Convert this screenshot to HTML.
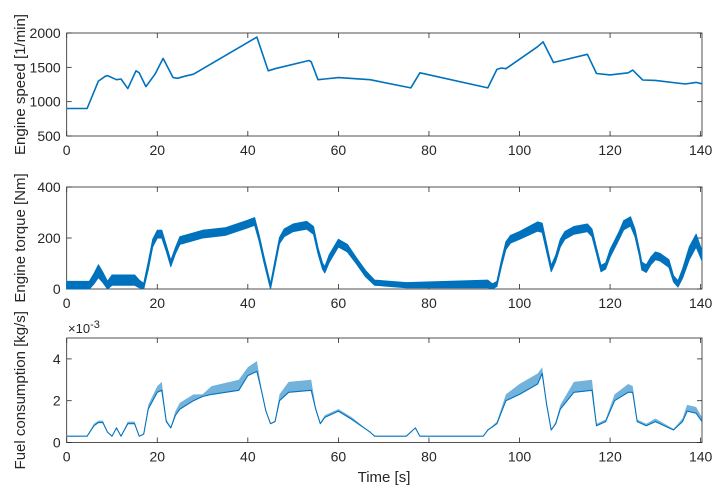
<!DOCTYPE html>
<html><head><meta charset="utf-8"><style>
body{margin:0;background:#fff;}
svg{display:block;font-family:"Liberation Sans",sans-serif;}
</style></head><body>
<svg id="c" width="721" height="496" xmlns="http://www.w3.org/2000/svg"></svg>
<script>
const xTicks=[0,20,40,60,80,100,120,140];
const speedT=[0,4.5,7,8.5,9,11,12,13.5,15.3,16,17.5,19.5,21.3,23.5,24.5,26,28,42,44.5,46,53.5,54,55.5,57,60,67,76,78,93,95,96,97,104,105.2,107.5,115,117,120,124,125,127.2,130,136.6,139,140.3];
const speedV=[900,900,1300,1370,1380,1320,1330,1190,1450,1420,1220,1400,1630,1350,1340,1370,1400,1940,1450,1480,1600,1580,1320,1330,1350,1320,1200,1420,1200,1470,1490,1480,1800,1870,1570,1690,1410,1390,1420,1460,1316,1310,1257,1280,1260];
const speedTicks=[500,1000,1500,2000];
const torqueT=[0,5,6,7,8,9,10,15,16,17,18,19,20,21,22,23,24,25,30,35,40,41.5,42.5,43.5,45,46,47,48,50,53,54.5,55.5,56.5,57,58,60,62,64,66,68,75,93,94,95,96,97,98,100,104,105,106,107,108,109,110,112,115,116,117,118,119,120,122,123,124.5,125.5,126.5,127,128,129,130,131,133,134,135,136,137.5,139,140.3];
const torqueV=[15,15,40,70,45,15,35,35,20,10,90,180,215,215,160,100,150,190,215,225,255,265,200,120,10,100,190,220,240,250,230,150,90,75,120,180,160,110,60,25,15,20,10,20,100,170,195,210,245,240,160,80,120,180,210,230,240,220,150,80,90,140,210,250,265,220,140,90,80,110,130,125,100,40,20,60,140,190,130,100];
const torqueBand=[15,15,20,25,20,15,20,20,15,12,15,15,15,15,12,12,12,15,15,15,15,15,12,12,10,12,12,15,15,15,15,12,12,12,15,15,15,12,12,10,10,15,10,10,12,15,15,15,18,18,15,12,12,15,15,15,15,15,12,12,12,15,15,18,18,15,12,15,15,15,15,15,15,12,12,18,25,25,20,20];
const torqueTicks=[0,200,400];
const fuelT=[0,4.5,6,7,8,9,10,11,12,13.5,15,16,17,18,20,21,22,23,24,25,28,30,32,38,40,42,43,44,45,46,47,49,54,55,56,57,60,63,67,68,75,77,78,92,93,95,97,100,104,105,106,107,108,109,112,116,117,119,121,124,125,126,128,130,134,136,137,139,140.3];
const fuelV=[0.3,0.3,0.8,0.95,0.95,0.5,0.3,0.7,0.3,0.9,0.9,0.3,0.4,1.6,2.4,2.5,1.0,0.7,1.3,1.6,2.0,2.2,2.3,2.5,3.2,3.4,2.5,1.5,0.9,1.0,2.0,2.4,2.5,1.6,0.9,1.2,1.5,1.1,0.5,0.3,0.3,0.7,0.3,0.3,0.6,0.9,2.0,2.3,2.8,3.3,1.8,0.6,0.9,1.6,2.4,2.5,0.8,1.0,2.0,2.4,2.4,1.0,0.8,1.0,0.6,1.0,1.5,1.4,1.0];
const fuelSpike=[0,0,0.1,0.1,0.1,0,0,0.05,0,0.1,0.1,0,0,0.2,0.3,0.4,0.1,0.05,0.2,0.3,0.3,0.1,0.4,0.5,0.4,0.5,0.1,0,0,0.05,0.3,0.5,0.5,0.1,0.05,0.1,0.1,0.1,0,0,0,0,0,0,0,0.1,0.3,0.5,0.5,0.3,0,0,0.1,0.2,0.5,0.5,0.1,0.1,0.3,0.4,0.3,0.1,0.1,0.15,0.05,0.15,0.3,0.3,0.2];
const fuelTicks=[0,2,4];

const svg=document.getElementById('c');
const NS='http://www.w3.org/2000/svg';
const X0=66.7,X1=702,TMAX=140.3;
const col='#0072BD';
function sx(t){return X0+t*(X1-X0)/TMAX;}
function mk(tag,attrs,parent){const e=document.createElementNS(NS,tag);for(const k in attrs)e.setAttribute(k,attrs[k]);(parent||svg).appendChild(e);return e;}

const panels=[
 {name:'speed',top:33,bot:136,ymin:500,ymax:2000,ticks:speedTicks,label:'Engine speed [1/min]'},
 {name:'torque',top:187,bot:289,ymin:0,ymax:400,ticks:torqueTicks,label:'Engine torque [Nm]'},
 {name:'fuel',top:338,bot:442.5,ymin:0,ymax:5,ticks:fuelTicks,label:'Fuel consumption [kg/s]'}
];
panels.forEach(p=>{
 p.sy=v=>p.bot-(v-p.ymin)*(p.bot-p.top)/(p.ymax-p.ymin);
 const g=mk('g',{});
 
 
 mk('rect',{x:X0,y:p.top,width:X1-X0,height:p.bot-p.top,fill:'#fff',stroke:'#262626','stroke-width':0.8},g);
 xTicks.forEach(t=>{
  const x=sx(t);
  mk('line',{x1:x,x2:x,y1:p.bot,y2:p.bot-5,stroke:'#262626','stroke-width':0.8},g);
  mk('line',{x1:x,x2:x,y1:p.top,y2:p.top+5,stroke:'#262626','stroke-width':0.8},g);
  const tx=mk('text',{x:x,y:p.bot+19,'text-anchor':'middle','font-size':14,fill:'#262626'},g);
  tx.textContent=t;
  
  
 });
 p.ticks.forEach(v=>{
  const y=p.sy(v);
  mk('line',{x1:X0,x2:X0+5,y1:y,y2:y,stroke:'#262626','stroke-width':0.8},g);
  mk('line',{x1:X1,x2:X1-5,y1:y,y2:y,stroke:'#262626','stroke-width':0.8},g);
  const tx=mk('text',{x:X0-6,y:y+5,'text-anchor':'end','font-size':14,fill:'#262626'},g);
  tx.textContent=v;
  
  
 });
 const cy=(p.top+p.bot)/2;
 const lb=mk('text',{x:0,y:0,transform:`translate(25,${cy}) rotate(-90)`,'text-anchor':'middle','font-size':15,fill:'#262626'},g);
 lb.textContent=p.label;
 
 
});
const [P1,P2,P3]=panels;
let d=speedT.map((t,i)=>(i?'L':'M')+sx(t).toFixed(1)+','+P1.sy(speedV[i]).toFixed(1)).join('');
const l1=mk('path',{d:d,fill:'none',stroke:col,'stroke-width':1.6,'stroke-linejoin':'round'});


let up=torqueT.map((t,i)=>sx(t).toFixed(1)+','+P2.sy(Math.min(400,torqueV[i]+torqueBand[i])).toFixed(1));
let lo=torqueT.map((t,i)=>sx(t).toFixed(1)+','+P2.sy(Math.max(0,torqueV[i]-torqueBand[i])).toFixed(1)).reverse();
const b2=mk('polygon',{points:up.concat(lo).join(' '),fill:col,stroke:col,'stroke-width':1,'stroke-linejoin':'round'});


let fu=fuelT.map((t,i)=>sx(t).toFixed(1)+','+P3.sy(fuelV[i]+fuelSpike[i]).toFixed(1));
let fl=fuelT.map((t,i)=>sx(t).toFixed(1)+','+P3.sy(fuelV[i]).toFixed(1)).reverse();
const b3=mk('polygon',{points:fu.concat(fl).join(' '),fill:col,'fill-opacity':0.55,stroke:'none'});


d=fuelT.map((t,i)=>(i?'L':'M')+sx(t).toFixed(1)+','+P3.sy(fuelV[i]).toFixed(1)).join('');
const l3=mk('path',{d:d,fill:'none',stroke:col,'stroke-width':1.1,'stroke-linejoin':'round'});


const ex=mk('text',{x:68,y:333,'font-size':13,fill:'#262626'});
ex.innerHTML='×10<tspan dy="-5" font-size="11">-3</tspan>';


const xl=mk('text',{x:384,y:482,'text-anchor':'middle','font-size':15,fill:'#262626'});
xl.textContent='Time [s]';


</script>
</body></html>
